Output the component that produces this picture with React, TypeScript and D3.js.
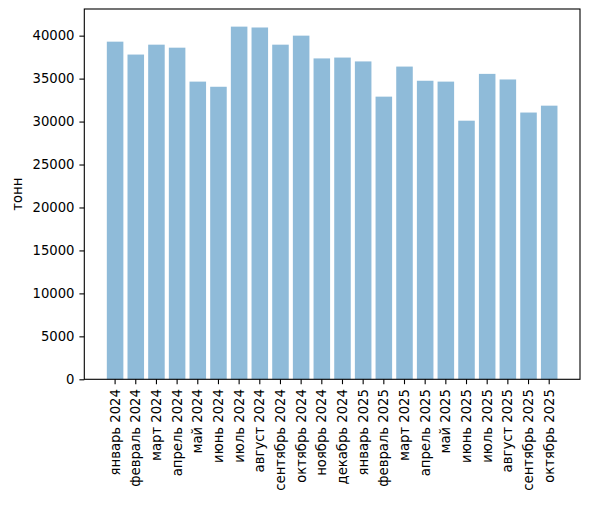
import React, { useEffect, useRef } from "react";
import * as d3 from "d3";

const months = [
  "январь 2024",
  "февраль 2024",
  "март 2024",
  "апрель 2024",
  "май 2024",
  "июнь 2024",
  "июль 2024",
  "август 2024",
  "сентябрь 2024",
  "октябрь 2024",
  "ноябрь 2024",
  "декабрь 2024",
  "январь 2025",
  "февраль 2025",
  "март 2025",
  "апрель 2025",
  "май 2025",
  "июнь 2025",
  "июль 2025",
  "август 2025",
  "сентябрь 2025",
  "октябрь 2025",
];

const tonnes = [
  39300, 37800, 38950, 38600, 34650, 34050, 41050, 40950, 38950, 40000, 37350,
  37450, 37000, 32900, 36400, 34750, 34650, 30100, 35550, 34900, 31050, 31850,
];

const yTicks = [0, 5000, 10000, 15000, 20000, 25000, 30000, 35000, 40000];

const W = 589;
const H = 506;

export default function App() {
  const ref = useRef<SVGSVGElement>(null);

  useEffect(() => {
    if (!ref.current) return;
    const margin = { top: 9, right: 9, bottom: H - 379.3, left: 84.3 };
    const chartWidth = W - margin.left - margin.right;
    const chartHeight = H - margin.top - margin.bottom;

    const root = d3.select(ref.current);
    root.selectAll("*").remove();
    const svg = root
      .append("g")
      .attr("transform", `translate(${margin.left},${margin.top})`);

    const x = d3
      .scaleBand()
      .domain(months)
      .range([0, chartWidth])
      .paddingInner(0.2)
      .paddingOuter(1.09);

    const yMax = d3.max(tonnes) || 0;
    const y = d3
      .scaleLinear()
      .domain([0, yMax * 1.05])
      .range([chartHeight, 0]);

    // bars
    svg
      .selectAll(".bar")
      .data(tonnes)
      .enter()
      .append("rect")
      .attr("class", "bar")
      .attr("x", (_d, i) => x(months[i]) || 0)
      .attr("y", (d) => y(d))
      .attr("width", x.bandwidth())
      .attr("height", (d) => chartHeight - y(d))
      .attr("fill", "#1f77b4")
      .attr("fill-opacity", 0.5);

    // x axis
    const gx = svg
      .append("g")
      .attr("transform", `translate(0,${chartHeight})`)
      .call(d3.axisBottom(x).tickSize(4.9).tickPadding(4.9));
    gx.select(".domain").remove();
    gx.selectAll(".tick line").attr("stroke", "#000").attr("stroke-width", 1.1);
    gx.selectAll(".tick text")
      .attr("transform", "rotate(-90)")
      .attr("x", -9.8)
      .attr("y", 0)
      .attr("dy", "0.35em")
      .attr("text-anchor", "end")
      .attr("fill", "#000")
      .attr("font-size", "13.2px")
      .attr("font-family", "DejaVu Sans");

    // y axis
    const gy = svg
      .append("g")
      .call(
        d3
          .axisLeft(y)
          .tickValues(yTicks)
          .tickSize(4.9)
          .tickPadding(4.9)
          .tickFormat((d) => String(d)),
      );
    gy.select(".domain").remove();
    gy.selectAll(".tick line").attr("stroke", "#000").attr("stroke-width", 1.1);
    gy.selectAll(".tick text")
      .attr("fill", "#000")
      .attr("font-size", "13.2px")
      .attr("font-family", "DejaVu Sans");

    // frame
    svg
      .append("rect")
      .attr("x", 0)
      .attr("y", 0)
      .attr("width", chartWidth)
      .attr("height", chartHeight)
      .attr("fill", "none")
      .attr("stroke", "#000")
      .attr("stroke-width", 1.1);

    // y label
    svg
      .append("text")
      .attr("transform", `translate(${17 - margin.left},${chartHeight / 2}) rotate(-90)`)
      .attr("text-anchor", "middle")
      .attr("dy", "0.35em")
      .attr("font-size", "13.2px")
      .attr("font-family", "DejaVu Sans")
      .attr("fill", "#000")
      .text("тонн");
  }, []);

  return (
    <div style={{ position: "absolute", left: 0, top: 0, background: "#fff" }}>
      <svg ref={ref} width={W} height={H} style={{ display: "block" }} />
    </div>
  );
}
